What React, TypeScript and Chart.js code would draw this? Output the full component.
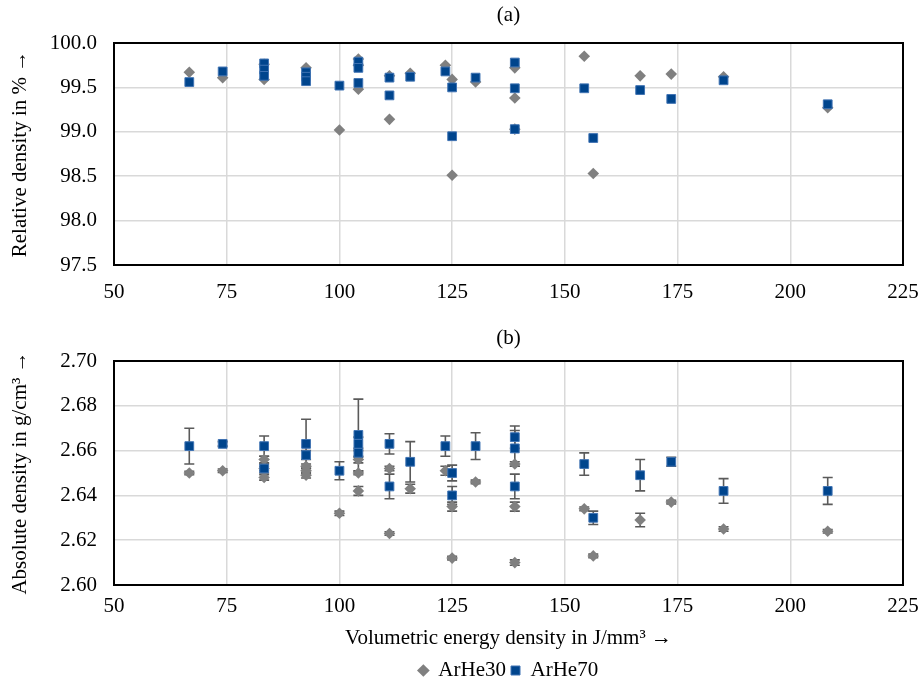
import React, { useEffect, useRef } from "react";
import { Chart, registerables } from "chart.js";

Chart.register(...registerables);

// ---------- data ----------
const xTicks = [50, 75, 100, 125, 150, 175, 200, 225];
const yTicksA = [97.5, 98.0, 98.5, 99.0, 99.5, 100.0];
const yTickLabelsA = ["97.5", "98.0", "98.5", "99.0", "99.5", "100.0"];
const yTicksB = [2.6, 2.62, 2.64, 2.66, 2.68, 2.7];
const yTickLabelsB = ["2.60", "2.62", "2.64", "2.66", "2.68", "2.70"];

const seriesNames = ["ArHe30", "ArHe70"];

// (a) relative density
const relX30 = [66.7, 74.1, 83.3, 83.3, 92.6, 100.0, 104.2, 104.2, 104.2, 111.1, 111.1, 115.7, 123.5, 125.0, 125.0, 130.2, 138.9, 138.9, 138.9, 154.3, 156.3, 166.7, 173.6, 185.2, 208.3];
const relY30 = [99.67, 99.61, 99.76, 99.59, 99.72, 99.02, 99.82, 99.75, 99.48, 99.63, 99.14, 99.66, 99.75, 99.59, 98.51, 99.56, 99.72, 99.38, 99.03, 99.85, 98.53, 99.63, 99.65, 99.62, 99.27];
const relX70 = [66.7, 74.1, 83.3, 83.3, 83.3, 92.6, 92.6, 92.6, 100.0, 104.2, 104.2, 104.2, 111.1, 111.1, 115.7, 123.5, 125.0, 125.0, 130.2, 138.9, 138.9, 138.9, 154.3, 156.3, 166.7, 173.6, 185.2, 208.3];
const relY70 = [99.56, 99.68, 99.77, 99.70, 99.63, 99.67, 99.62, 99.57, 99.52, 99.79, 99.72, 99.55, 99.61, 99.41, 99.62, 99.68, 99.50, 98.95, 99.61, 99.78, 99.49, 99.03, 99.49, 98.93, 99.47, 99.37, 99.58, 99.31];

// (b) absolute density with standard deviation
const absX30 = [66.7, 74.1, 83.3, 83.3, 83.3, 92.6, 92.6, 92.6, 100.0, 104.2, 104.2, 104.2, 111.1, 111.1, 115.7, 123.5, 125.0, 125.0, 130.2, 138.9, 138.9, 138.9, 154.3, 156.3, 166.7, 173.6, 185.2, 208.3];
const absY30 = [2.650, 2.651, 2.656, 2.652, 2.648, 2.653, 2.651, 2.649, 2.632, 2.656, 2.650, 2.642, 2.652, 2.623, 2.643, 2.651, 2.635, 2.612, 2.646, 2.654, 2.635, 2.610, 2.634, 2.613, 2.629, 2.637, 2.625, 2.624];
const absE30 = [0.0008, 0.0008, 0.0015, 0.001, 0.0012, 0.001, 0.0012, 0.0012, 0.001, 0.0015, 0.0008, 0.002, 0.001, 0.0008, 0.002, 0.002, 0.002, 0.0008, 0.0008, 0.001, 0.002, 0.0012, 0.0008, 0.0008, 0.003, 0.0008, 0.001, 0.0008];
const absX70 = [66.7, 74.1, 83.3, 83.3, 92.6, 92.6, 100.0, 104.2, 104.2, 104.2, 111.1, 111.1, 115.7, 123.5, 125.0, 125.0, 130.2, 138.9, 138.9, 138.9, 154.3, 156.3, 166.7, 173.6, 185.2, 208.3];
const absY70 = [2.662, 2.663, 2.662, 2.652, 2.663, 2.658, 2.651, 2.667, 2.663, 2.659, 2.663, 2.644, 2.655, 2.662, 2.650, 2.640, 2.662, 2.666, 2.661, 2.644, 2.654, 2.630, 2.649, 2.655, 2.642, 2.642];
const absE70 = [0.008, 0.001, 0.0045, 0.002, 0.011, 0.002, 0.004, 0.016, 0.003, 0.002, 0.0045, 0.0055, 0.009, 0.0045, 0.0035, 0.004, 0.006, 0.005, 0.008, 0.0055, 0.005, 0.003, 0.007, 0.002, 0.0055, 0.006];

// ---------- styling ----------
const FONT = "'Liberation Serif', 'Times New Roman', serif";
const FS = 21;
const GRAY = "#808080";
const BLUE = "#00458D";
const BLUE_EDGE = "#3F73B3";
const GRID = "#d9d9d9";
const ERR = "#5a5a5a";

const pts = (xs: number[], ys: number[]) => xs.map((x, i) => ({ x, y: ys[i] }));

const framePlugin = {
  id: "frame",
  afterDraw(chart: any, _args: any, opts: any) {
    const { ctx, chartArea: a } = chart;
    ctx.save();
    ctx.strokeStyle = "#000";
    ctx.lineWidth = 2;
    ctx.strokeRect(a.left, a.top, a.width, a.height);
    if (opts && opts.text) {
      ctx.font = `${FS}px ${FONT}`;
      ctx.fillStyle = "#000";
      ctx.textAlign = "center";
      ctx.textBaseline = "middle";
      ctx.fillText(opts.text, (a.left + a.right) / 2, opts.y);
    }
    ctx.restore();
  },
};

const errorPlugin = {
  id: "errbars",
  beforeDatasetsDraw(chart: any) {
    const { ctx } = chart;
    const xs = chart.scales.x;
    const ys = chart.scales.y;
    ctx.save();
    ctx.strokeStyle = ERR;
    ctx.lineWidth = 1.6;
    chart.data.datasets.forEach((ds: any) => {
      if (!ds.errorBars) return;
      ds.data.forEach((p: any, i: number) => {
        const e = ds.errorBars[i];
        if (!e) return;
        const px = xs.getPixelForValue(p.x);
        const top = ys.getPixelForValue(p.y + e);
        const bot = ys.getPixelForValue(p.y - e);
        ctx.beginPath();
        ctx.moveTo(px, top);
        ctx.lineTo(px, bot);
        ctx.moveTo(px - 5, top);
        ctx.lineTo(px + 5, top);
        ctx.moveTo(px - 5, bot);
        ctx.lineTo(px + 5, bot);
        ctx.stroke();
      });
    });
    ctx.restore();
  },
};

function makeScales(yTicks: number[], yLabels: string[], yTitle: string, xTickPad: number, xHeight: number, xTitle: string | null) {
  const font = { family: FONT, size: FS };
  return {
    x: {
      type: "linear",
      min: 50,
      max: 225,
      afterBuildTicks: (s: any) => {
        s.ticks = xTicks.map((v) => ({ value: v }));
      },
      afterFit: (s: any) => {
        s.height = xHeight;
        s.paddingLeft = 0;
        s.paddingRight = 0;
      },
      grid: { color: GRID, lineWidth: 1.5, drawTicks: false },
      border: { display: false },
      ticks: { color: "#000", font, padding: xTickPad, maxRotation: 0, callback: (v: any) => String(v) },
      title: xTitle
        ? { display: true, text: xTitle, color: "#000", font, padding: { top: 0, bottom: 4 } }
        : { display: false },
    },
    y: {
      type: "linear",
      min: yTicks[0],
      max: yTicks[yTicks.length - 1],
      afterBuildTicks: (s: any) => {
        s.ticks = yTicks.map((v) => ({ value: v }));
      },
      afterFit: (s: any) => {
        s.width = 114;
      },
      grid: { color: GRID, lineWidth: 1.5, drawTicks: false },
      border: { display: false },
      ticks: { color: "#000", font, padding: 17, callback: (_v: any, i: number) => yLabels[i] },
      title: { display: true, text: yTitle, color: "#000", font, padding: { top: 8, bottom: 0 } },
    },
  };
}

function datasets(x30: number[], y30: number[], x70: number[], y70: number[], e30?: number[], e70?: number[]) {
  return [
    {
      label: seriesNames[0],
      data: pts(x30, y30),
      pointStyle: "rectRot",
      pointRadius: 5.8,
      backgroundColor: GRAY,
      borderColor: GRAY,
      borderWidth: 0,
      showLine: false,
      order: 1,
      errorBars: e30,
    },
    {
      label: seriesNames[1],
      data: pts(x70, y70),
      pointStyle: "rect",
      pointRadius: 6.2,
      backgroundColor: BLUE,
      borderColor: BLUE_EDGE,
      borderWidth: 1,
      showLine: false,
      order: 0,
      errorBars: e70,
    },
  ];
}

export default function App() {
  const refA = useRef<HTMLCanvasElement>(null);
  const refB = useRef<HTMLCanvasElement>(null);

  useEffect(() => {
    const chartA = new Chart(refA.current as HTMLCanvasElement, {
      type: "scatter",
      data: { datasets: datasets(relX30, relY30, relX70, relY70) as any },
      options: {
        animation: false,
        responsive: false,
        maintainAspectRatio: false,
        layout: { padding: { top: 43, right: 18, bottom: 0, left: 0 } },
        scales: makeScales(yTicksA, yTickLabelsA, "Relative density in % →", 15, 55, null) as any,
        plugins: {
          legend: { display: false },
          tooltip: { enabled: false },
          frame: { text: "(a)", y: 15 },
        } as any,
      },
      plugins: [framePlugin as any],
    });

    const chartB = new Chart(refB.current as HTMLCanvasElement, {
      type: "scatter",
      data: { datasets: datasets(absX30, absY30, absX70, absY70, absE30, absE70) as any },
      options: {
        animation: false,
        responsive: false,
        maintainAspectRatio: false,
        layout: { padding: { top: 41, right: 18, bottom: 0, left: 0 } },
        scales: makeScales(yTicksB, yTickLabelsB, "Absolute density in g/cm³ →", 9, 70, "Volumetric energy density in J/mm³ →") as any,
        plugins: {
          legend: {
            display: true,
            position: "bottom",
            fullSize: false,
            labels: {
              usePointStyle: true,
              boxWidth: 9,
              boxHeight: 9,
              padding: 5,
              color: "#000",
              font: { family: FONT, size: FS },
              sort: (a: any, b: any) => a.datasetIndex - b.datasetIndex,
            },
          },
          tooltip: { enabled: false },
          frame: { text: "(b)", y: 18 },
        } as any,
      },
      plugins: [framePlugin as any, errorPlugin as any],
    });

    return () => {
      chartA.destroy();
      chartB.destroy();
    };
  }, []);

  return (
    <div style={{ position: "absolute", left: 0, top: 0, width: 921, height: 686, background: "#fff", overflow: "hidden" }}>
      <canvas ref={refA} width={921} height={320} style={{ position: "absolute", left: 0, top: 0, width: 921, height: 320 }} />
      <canvas ref={refB} width={921} height={371} style={{ position: "absolute", left: 0, top: 320, width: 921, height: 371 }} />
    </div>
  );
}
